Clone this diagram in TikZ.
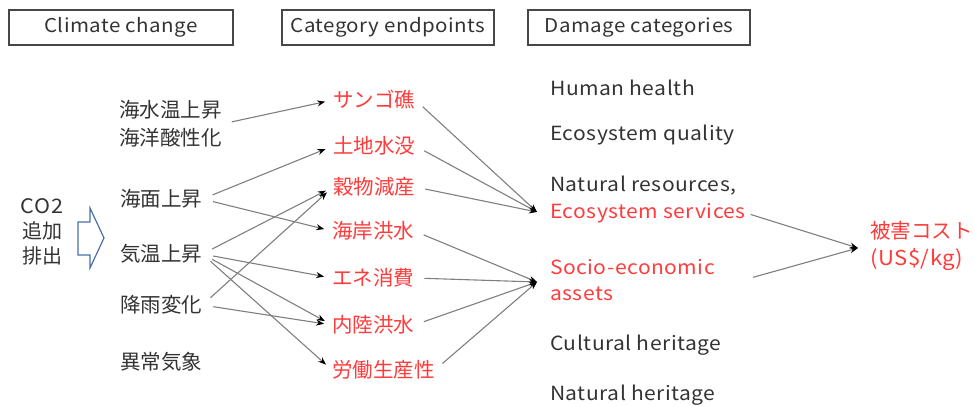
\documentclass[tikz,border=0pt]{standalone}
\usepackage{fontspec}
\setmainfont{Noto Sans CJK JP}
\newfontfamily\latf[FakeStretch=1.08, LetterSpace=2.5]{Noto Sans CJK JP}
\usetikzlibrary{arrows.meta}
\definecolor{txt}{HTML}{333333}
\definecolor{red1}{HTML}{FF3B3B}
\definecolor{ln}{HTML}{7F7F7F}
\definecolor{arw}{HTML}{4A6FA5}
\tikzset{
  hdr/.style={draw=txt!90, line width=1.2pt, minimum height=35pt, inner sep=0pt, text=txt, font=\latf\fontsize{19}{22}\selectfont},
  jp/.style={anchor=west, inner sep=0pt, text=txt, font=\fontsize{20.5}{28}\selectfont, align=left},
  jpr/.style={jp, text=red1},
  en/.style={anchor=west, inner sep=0pt, text=txt, font=\latf\fontsize{19.5}{26}\selectfont, align=left},
  enr/.style={en, text=red1},
  conn/.style={draw=ln, line width=1.1pt, -{Stealth[length=8pt,width=6pt,color=black]}}
}
\begin{document}
\begin{tikzpicture}[x=1pt,y=-1pt]
\useasboundingbox (0,0) rectangle (974,405);
% header boxes
\node[hdr, minimum width=224pt] (h1) at (121,27.5) {Climate change};
\node[hdr, minimum width=212pt] (h2) at (388,27.5) {Category endpoints};
\node[hdr, minimum width=222pt] (h3) at (639,27.5) {Damage categories};
% CO2
\node[anchor=center, inner sep=0pt, text=txt, font=\fontsize{20}{25}\selectfont, align=center] (co2) at (42,232) {{\latf CO2}\\追加\\排出};
\draw[arw, line width=1.2pt, line join=miter] (78,222) -- (90,222) -- (90,208) -- (104,238) -- (90,268) -- (90,255) -- (78,255) -- cycle;
% left column
\node[jp] (a1) at (119,124) {海水温上昇\\海洋酸性化};
\node[jp] (a2) at (120,199) {海面上昇};
\node[jp] (a3) at (120,254) {気温上昇};
\node[jp] (a4) at (120,305) {降雨変化};
\node[jp] (a5) at (120,362) {異常気象};
% middle column
\node[jpr] (b1) at (333,100) {サンゴ礁};
\node[jpr] (b2) at (333,146) {土地水没};
\node[jpr] (b3) at (333,187) {穀物減産};
\node[jpr] (b4) at (332,231) {海岸洪水};
\node[jpr] (b5) at (332,278) {エネ消費};
\node[jpr] (b6) at (332,325) {内陸洪水};
\node[jpr] (b7) at (332,370) {労働生産性};
% right column
\node[en] (c1) at (550,88) {Human health};
\node[en] (c2) at (550,135) {Ecosystem quality};
\node[en] (c3) at (550,186) {Natural resources,};
\node[enr] (c4) at (550,213) {Ecosystem services};
\node[enr, text width=193pt] (c5) at (550,280) {Socio-economic\\assets};
\node[en] (c6) at (550,345) {Cultural heritage};
\node[en] (c7) at (550,395) {Natural heritage};
% cost
\node[jpr, font=\fontsize{20.5}{27}\selectfont] (d) at (870,246) {被害コスト\\{\latf (US\$/kg)}};
% convergence points
\coordinate (esin) at (537,212);
\coordinate (sein) at (537,282);
\coordinate (costin) at (858,248);
% left -> middle
\draw[conn, shorten <=10pt, shorten >=8pt] (a1.east) -- (b1.west);
\draw[conn, shorten <=11pt, shorten >=8pt] (a2.east) -- (b2.west);
\draw[conn, shorten <=11pt, shorten >=8pt] (a2.east) -- (b4.west);
\draw[conn, shorten <=11pt, shorten >=8pt] (a3.east) -- (b3.west);
\draw[conn, shorten <=11pt, shorten >=8pt] (a3.east) -- (b5.west);
\draw[conn, shorten <=11pt, shorten >=8pt] (a3.east) -- (b6.west);
\draw[conn, shorten <=11pt, shorten >=8pt] (a3.east) -- (b7.west);
\draw[conn, shorten <=11pt, shorten >=8pt] (a4.east) -- (b3.west);
\draw[conn, shorten <=11pt, shorten >=8pt] (a4.east) -- (b6.west);
% middle -> right
\foreach \n in {b1,b2,b3} \draw[conn, shorten <=10pt] (\n.east) -- (esin);
\foreach \n in {b4,b5,b6,b7} \draw[conn, shorten <=10pt] (\n.east) -- (sein);
% right -> cost
\draw[conn, shorten <=5pt] (c4.east) -- (costin);
\draw[conn, shorten <=10pt] (c5.east) -- (costin);
\end{tikzpicture}
\end{document}
